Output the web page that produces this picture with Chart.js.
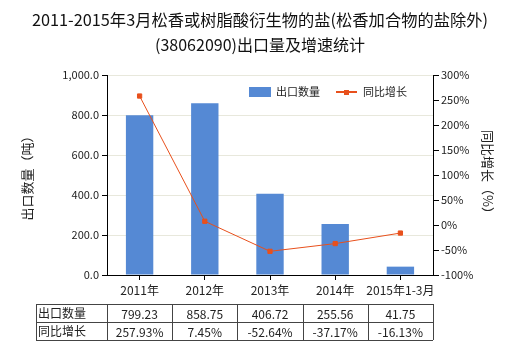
<!DOCTYPE html>
<html>
<head>
<meta charset="utf-8">
<script src="https://cdn.jsdelivr.net/npm/chart.js@4/dist/chart.umd.min.js"></script>
<style>
html,body{margin:0;padding:0;background:#fff;}
#wrap{width:520px;height:350px;position:relative;}
</style>
</head>
<body>
<div id="wrap"><canvas id="c" width="520" height="350"></canvas></div>
<script>
const categories = ['2011年', '2012年', '2013年', '2014年', '2015年1-3月'];
const exportQty = [799.23, 858.75, 406.72, 255.56, 41.75];
const growthPct = [257.93, 7.45, -52.64, -37.17, -16.13];
const qtyLabels = ['799.23', '858.75', '406.72', '255.56', '41.75'];
const growthLabels = ['257.93%', '7.45%', '-52.64%', '-37.17%', '-16.13%'];
const seriesNames = ['出口数量', '同比增长'];
const titleLines = ['2011-2015年3月松香或树脂酸衍生物的盐(松香加合物的盐除外)', '(38062090)出口量及增速统计'];
const leftAxisTitle = '出口数量（吨）';
const rightAxisTitle = '同比增长（%）';

const FONT = '"Noto Sans CJK SC", "Noto Sans", sans-serif';
const BAR = '#5589d4';
const LINE = '#e8501c';
const TXT = '#222';

const extras = {
  id: 'extras',
  afterDraw(chart) {
    const ctx = chart.ctx;
    const x = chart.scales.x;
    ctx.save();
    // Title
    ctx.fillStyle = '#111';
    ctx.textAlign = 'center';
    ctx.textBaseline = 'middle';
    ctx.font = '16.3px ' + FONT;
    ctx.fillText(titleLines[0], 260, 20);
    ctx.font = '16px ' + FONT;
    ctx.fillText(titleLines[1], 260, 45);
    // Legend
    ctx.font = '11px ' + FONT;
    ctx.textAlign = 'left';
    ctx.fillStyle = BAR;
    ctx.fillRect(249, 87, 22, 10);
    ctx.fillStyle = TXT;
    ctx.fillText(seriesNames[0], 276, 92);
    ctx.strokeStyle = LINE;
    ctx.lineWidth = 2;
    ctx.beginPath(); ctx.moveTo(336, 92); ctx.lineTo(357, 92); ctx.stroke();
    ctx.fillStyle = LINE;
    ctx.fillRect(344, 90, 5, 5);
    ctx.fillStyle = TXT;
    ctx.fillText(seriesNames[1], 363, 92);
    // Table
    const n = categories.length;
    const half = (x.getPixelForValue(1) - x.getPixelForValue(0)) / 2;
    const left = 36, firstDiv = x.getPixelForValue(0) - half;
    const right = x.getPixelForValue(n - 1) + half;
    const top = 304, rowH = 18;
    ctx.strokeStyle = '#444';
    ctx.lineWidth = 1;
    ctx.beginPath();
    for (let r = 0; r <= 2; r++) {
      const yy = Math.round(top + r * rowH) + 0.5;
      ctx.moveTo(left, yy); ctx.lineTo(right, yy);
    }
    const divs = [left, firstDiv];
    for (let i = 0; i < n; i++) divs.push(x.getPixelForValue(i) + half);
    divs.forEach(d => { const xx = Math.round(d) + 0.5; ctx.moveTo(xx, top); ctx.lineTo(xx, top + 2 * rowH); });
    ctx.stroke();
    ctx.font = '12px ' + FONT;
    ctx.fillStyle = TXT;
    ctx.textAlign = 'left';
    ctx.fillText(seriesNames[0], left + 2, top + rowH / 2);
    ctx.fillText(seriesNames[1], left + 2, top + rowH * 1.5);
    ctx.textAlign = 'center';
    for (let i = 0; i < n; i++) {
      const cx = x.getPixelForValue(i);
      ctx.fillText(qtyLabels[i], cx, top + rowH / 2 + 1);
      ctx.fillText(growthLabels[i], cx, top + rowH * 1.5 + 1);
    }
    ctx.restore();
  }
};

new Chart(document.getElementById('c'), {
  data: {
    labels: categories,
    datasets: [
      {
        type: 'line', label: seriesNames[1], data: growthPct, yAxisID: 'y1',
        borderColor: LINE, backgroundColor: LINE, borderWidth: 1,
        pointStyle: 'rect', pointRadius: 3, pointHoverRadius: 3, tension: 0, order: 0
      },
      {
        type: 'bar', label: seriesNames[0], data: exportQty, yAxisID: 'y',
        backgroundColor: BAR, borderWidth: 0,
        categoryPercentage: 1, barPercentage: 0.42, order: 1
      }
    ]
  },
  options: {
    responsive: false, animation: false, devicePixelRatio: 1,
    layout: { padding: { top: 75, bottom: 0, left: 0, right: 0 } },
    plugins: { legend: { display: false }, title: { display: false }, tooltip: { enabled: false } },
    scales: {
      x: {
        afterFit(s) { s.height = 75; },
        grid: { display: true, offset: false, drawOnChartArea: false, drawTicks: true, tickLength: 5, tickColor: '#000' },
        border: { display: true, color: '#000', width: 1 },
        ticks: { color: TXT, font: { family: FONT, size: 12 }, padding: 3, maxRotation: 0, autoSkip: false }
      },
      y: {
        position: 'left', min: 0, max: 1000,
        afterFit(s) { s.width = 107; },
        ticks: {
          stepSize: 200, color: TXT, padding: 3, font: { family: FONT, size: 11 },
          callback: v => v.toLocaleString('en-US', { minimumFractionDigits: 1, maximumFractionDigits: 1 })
        },
        grid: { color: '#e8e8dc', tickColor: '#000', tickLength: 5 },
        border: { display: true, color: '#000' },
        title: { display: true, text: leftAxisTitle, color: TXT, font: { family: FONT, size: 13 }, padding: { top: 19 } }
      },
      y1: {
        position: 'right', min: -100, max: 300,
        afterFit(s) { s.width = 87; },
        ticks: { stepSize: 50, color: TXT, padding: 2, font: { family: FONT, size: 11 }, callback: v => v + '%' },
        grid: { drawOnChartArea: false, tickColor: '#000', tickLength: 6 },
        border: { display: true, color: '#000' },
        title: { display: true, text: rightAxisTitle, color: TXT, font: { family: FONT, size: 13 }, padding: { top: 24 } }
      }
    }
  },
  plugins: [extras]
});
</script>
</body>
</html>
